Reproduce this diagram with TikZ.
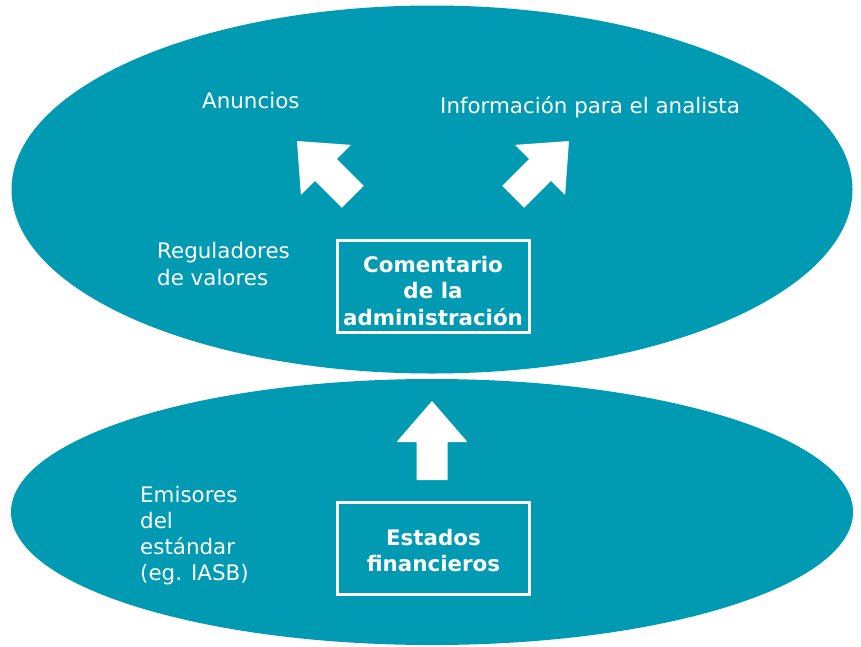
\documentclass[tikz,border=0pt]{standalone}
\usepackage{fontspec}
\setmainfont{DejaVu Sans}
\usetikzlibrary{shapes.geometric}
\definecolor{oceano}{RGB}{0,155,178}

\begin{document}
\begin{tikzpicture}[x=1pt,y=-1pt,
  blob/.style={ellipse,fill=oceano,inner sep=0pt},
  box/.style={draw=white,line width=3pt,minimum width=192pt,minimum height=92pt},
  boxtext/.style={align=center,text=white,inner sep=0pt,
    font=\fontsize{21.4}{26.5}\selectfont\bfseries},
  lbl/.style={text=white,align=left,anchor=west,inner sep=0pt,
    font=\fontsize{21.4}{26.2}\selectfont},
  bigarrow/.pic={\fill[white] (0,0) -- (35.5,41) -- (15.5,41) -- (15.5,79)
    -- (-15.5,79) -- (-15.5,41) -- (-35.5,41) -- cycle;}]
  \useasboundingbox (0,0) rectangle (861,646);
  % the two levels
  \node[blob,minimum width=841pt,minimum height=368pt] (upper) at (432,189.5) {};
  \node[blob,minimum width=842pt,minimum height=266pt] (lower) at (432,512) {};
  % boxes
  \node[box] (mgmt) at (433,286) {};
  \node[boxtext] (mgmt text) at ([yshift=-5pt]mgmt.center) {Comentario\\de la\\administración};
  \node[box] (fin) at (433.5,548.5) {};
  \node[boxtext] (fin text) at ([yshift=-2pt]fin.center) {Estados\\financieros};
  % labels
  \node[lbl] (ads) at (202,101) {Anuncios};
  \node[lbl] (info) at (440,107.5) {Información para el analista};
  \node[lbl] (reg) at (157,264) {Reguladores\\de valores};
  \node[lbl] (iasb) at (140,535.5) {Emisores\\del\\estándar\\(eg. IASB)};
  % arrows
  \pic at (432,401) {bigarrow};
  \pic[rotate=45] at (297,141) {bigarrow};
  \pic[rotate=-45] at (569,141) {bigarrow};
\end{tikzpicture}
\end{document}
